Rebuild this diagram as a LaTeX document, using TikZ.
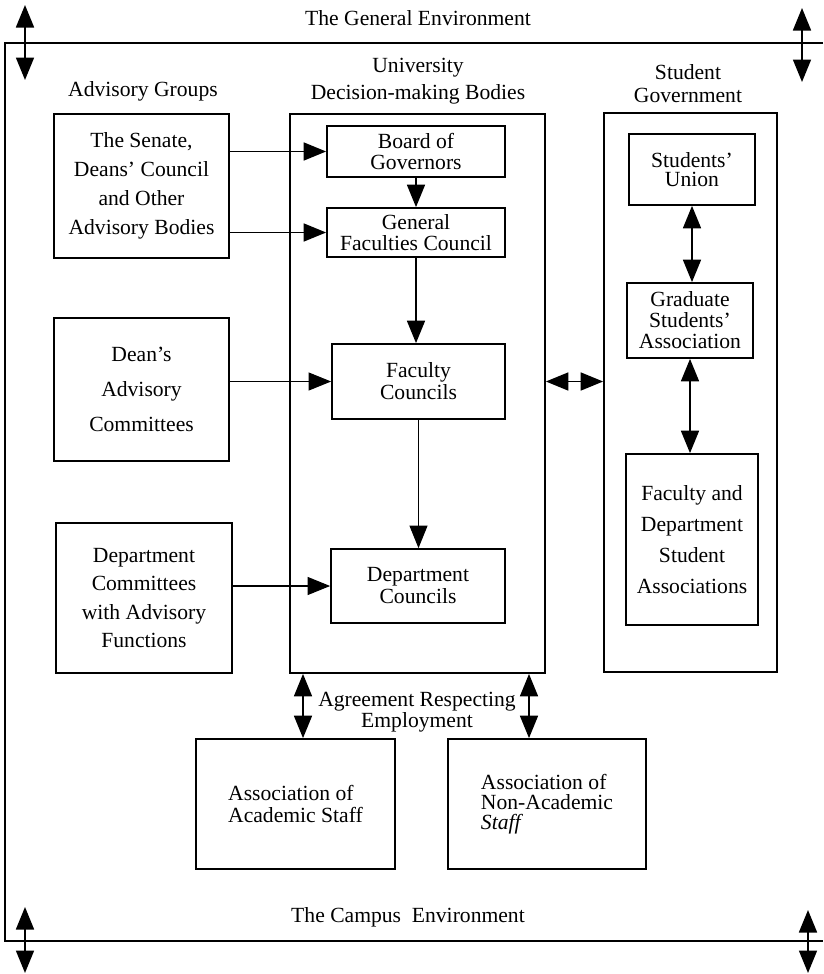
\documentclass[tikz,border=0pt]{standalone}
\usepackage{fontspec}
\setmainfont{Liberation Serif}
\usetikzlibrary{arrows.meta}

\begin{document}
\begin{tikzpicture}[x=0.2mm, y=-0.2mm, line width=1pt,
    >={Triangle[length=4.5mm,width=3.6mm]},
    txt/.style={align=center, font=\fontsize{12.3}{#1}\selectfont},
    txt/.default=15,
    box/.style={draw, inner sep=1pt, align=center,
        font=\fontsize{12.3}{#1}\selectfont},
    thinarrow/.style={->, line width=0.6pt}]
\useasboundingbox (0,0) rectangle (823,974);

\draw (823,43) -- (5,43) -- (5,941) -- (823,941);
\foreach \n/\x/\ya/\yb in {gtl/25/5/80, gtr/802/8/82, ctl/25/907/973,
	ctr/808/910/973} {
    \coordinate (\n a) at (\x,\ya);
    \coordinate (\n b) at (\x,\yb);
    \draw[<->] (\n a) -- (\n b);
}

\node[txt] (general) at (418,18) {The General Environment};
\node[txt] (campus) at (408,917) {The Campus\ \ Environment};
\node[txt] (advisory) at (143,91) {Advisory Groups};
\node[txt=15.3] (unititle) at (418,81) {University\\Decision-making Bodies};
\node[txt=13] (stutitle) at (688,84) {Student\\Government};
\node[txt=12] (agreement) at (417,712) {Agreement Respecting\\Employment};

\node[box=16.4, minimum width=35mm, minimum height=28.8mm] (senate)
    at (141.5,186) {The Senate,\\Deans' Council\\and Other\\Advisory Bodies};
\node[box=20, minimum width=35mm, minimum height=28.6mm] (deans)
    at (141.5,389.5) {Dean's\\Advisory\\Committees};
\node[box=16, minimum width=35.2mm, minimum height=30mm] (deptcom)
    at (144,598) {Department\\Committees\\with Advisory\\Functions};

\node[draw, minimum width=51mm, minimum height=111.8mm] (uni) at (417.5,393.5) {};
\node[box=11.5, minimum width=35.6mm, minimum height=10.2mm] (board)
    at (416,151.5) {Board of\\Governors};
\node[box=11.5, minimum width=35.6mm, minimum height=9.8mm] (gfc)
    at (416,232.5) {General\\Faculties Council};
\node[box=12.5, minimum width=34.6mm, minimum height=15mm] (fc)
    at (418.5,381.5) {Faculty\\Councils};
\node[box=12.5, minimum width=34.8mm, minimum height=14.8mm] (dc)
    at (418,586) {Department\\Councils};

\node[draw, minimum width=34.6mm, minimum height=111.8mm] (stugov) at (690.5,392.5) {};
\node[box=11, minimum width=25.2mm, minimum height=14.2mm] (su)
    at (692,169.5) {Students'\\Union};
\node[box=12, minimum width=25.2mm, minimum height=15mm] (gsa)
    at (690,320.5) {Graduate\\Students'\\Association};
\node[box=17.6, minimum width=26.4mm, minimum height=34.2mm] (fdsa)
    at (692,539.5) {Faculty and\\Department\\Student\\Associations};

\node[box=12.5, align=left, minimum width=39.8mm, minimum height=26mm] (aas)
    at (295.5,804) {Association of\\Academic Staff};
\node[box=11.3, align=left, minimum width=39.6mm, minimum height=26mm] (anas)
    at (547,804) {Association of\\Non-Academic\\\textit{Staff}};

\draw[->] (senate.east |- board) -- (board);
\draw[->] (senate.east |- gfc) -- (gfc);
\draw[->] (board) -- (gfc);
\draw[->] (gfc) -- (gfc |- fc.north);
\draw[thinarrow] (fc) -- (fc |- dc.north);
\draw[thinarrow] (deans.east |- fc) -- (fc);
\draw[thinarrow] (deptcom.east |- dc) -- (dc);
\draw[<->] (uni.east |- fc) -- (stugov.west |- fc);
\draw[<->] (su) -- (su |- gsa.north);
\draw[<->] (gsa) -- (gsa |- fdsa.north);
\draw[<->] ([xshift=1.5mm]uni.south -| aas) -- ([xshift=1.5mm]aas.north);
\draw[<->] ([xshift=-3.6mm]uni.south -| anas) -- ([xshift=-3.6mm]anas.north);
\end{tikzpicture}
\end{document}
